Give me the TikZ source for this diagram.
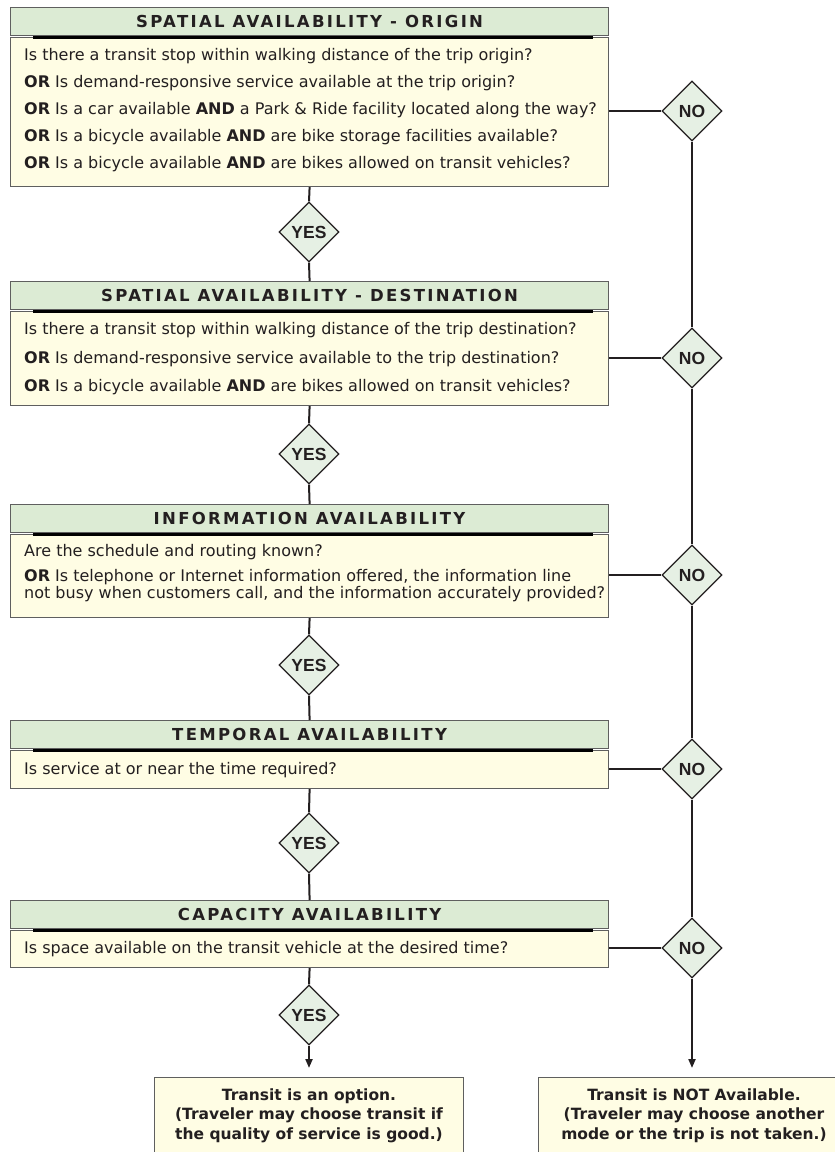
\documentclass[tikz,border=0pt]{standalone}
\usepackage{fontspec}
\setmainfont{DejaVu Sans}
\newfontfamily\ynfont{Liberation Sans}
\usetikzlibrary{shapes.geometric,arrows.meta}
\definecolor{hdrfill}{RGB}{220,235,212}
\definecolor{bodyfill}{RGB}{255,253,228}
\definecolor{dfill}{RGB}{230,240,228}
\definecolor{ink}{RGB}{35,31,32}
\definecolor{edge}{RGB}{95,95,95}
\newcommand{\bodyfont}{\fontsize{16}{15}\selectfont}
\newcommand{\finfont}{\fontsize{15.5}{20}\selectfont\bfseries}
\newcommand{\hdrfont}{\fontsize{16.5}{18}\selectfont\bfseries\addfontfeature{LetterSpace=14}}
\begin{document}
\begin{tikzpicture}[x=1pt,y=-1pt,
  hdr/.style={draw=edge, line width=1.2pt, fill=hdrfill, anchor=north west, minimum width=598pt, minimum height=28pt, inner sep=0pt, text=ink, font=\hdrfont},
  bodybox/.style={draw=edge, line width=1.2pt, fill=bodyfill, anchor=north west, minimum width=598pt, inner sep=0pt},
  endbox/.style={draw=edge, line width=1.2pt, fill=bodyfill, anchor=north west, inner sep=0pt},
  txt/.style={anchor=base west, inner sep=0pt, text=ink, font=\bodyfont},
  endtxt/.style={anchor=base, inner sep=0pt, text=ink, font=\finfont},
  dec/.style={diamond, draw=ink, line width=1.2pt, fill=dfill, minimum width=60pt, minimum height=60pt, inner sep=0pt, text=ink, font=\ynfont\fontsize{17.5}{18}\selectfont\bfseries},
  conn/.style={draw=ink, line width=2pt},
  shadowline/.style={draw=black, line width=2.2pt},
  arr/.style={conn, -{Triangle[width=7pt,length=9pt]}}
]
\useasboundingbox (0,0) rectangle (835,1152);

% ---------- Box 1
\node[hdr] (h1) at (10,7) {SPATIAL AVAILABILITY - ORIGIN};
\node[bodybox, minimum height=149pt] (b1) at (10,37) {};
\draw[shadowline] ([xshift=23pt,yshift=-1.3pt]h1.south west) -- ([xshift=-16pt,yshift=-1.3pt]h1.south east);
\node[txt] (t11) at (24,60.7) {Is there a transit stop within walking distance of the trip origin?};
\node[txt] (t12) at (24,87.5) {\textbf{OR} Is demand-responsive service available at the trip origin?};
\node[txt] (t13) at (24,114.5) {\textbf{OR} Is a car available \textbf{AND} a Park \& Ride facility located along the way?};
\node[txt] (t14) at (24,141.5) {\textbf{OR} Is a bicycle available \textbf{AND} are bike storage facilities available?};
\node[txt] (t15) at (24,168.3) {\textbf{OR} Is a bicycle available \textbf{AND} are bikes allowed on transit vehicles?};

% ---------- Box 2
\node[hdr] (h2) at (10,281) {SPATIAL AVAILABILITY - DESTINATION};
\node[bodybox, minimum height=94pt] (b2) at (10,311) {};
\draw[shadowline] ([xshift=23pt,yshift=-1.3pt]h2.south west) -- ([xshift=-16pt,yshift=-1.3pt]h2.south east);
\node[txt] (t21) at (24,334) {Is there a transit stop within walking distance of the trip destination?};
\node[txt] (t22) at (24,363) {\textbf{OR} Is demand-responsive service available to the trip destination?};
\node[txt] (t23) at (24,391.5) {\textbf{OR} Is a bicycle available \textbf{AND} are bikes allowed on transit vehicles?};

% ---------- Box 3
\node[hdr] (h3) at (10,504) {INFORMATION AVAILABILITY};
\node[bodybox, minimum height=83pt] (b3) at (10,534) {};
\draw[shadowline] ([xshift=23pt,yshift=-1.3pt]h3.south west) -- ([xshift=-16pt,yshift=-1.3pt]h3.south east);
\node[txt] (t31) at (24,556.7) {Are the schedule and routing known?};
\node[txt] (t32) at (24,581.5) {\textbf{OR} Is telephone or Internet information offered, the information line};
\node[txt] (t33) at (24,598.5) {not busy when customers call, and the information accurately provided?};

% ---------- Box 4
\node[hdr] (h4) at (10,720) {TEMPORAL AVAILABILITY};
\node[bodybox, minimum height=38pt] (b4) at (10,750) {};
\draw[shadowline] ([xshift=23pt,yshift=-1.3pt]h4.south west) -- ([xshift=-16pt,yshift=-1.3pt]h4.south east);
\node[txt] (t41) at (24,774) {Is service at or near the time required?};

% ---------- Box 5
\node[hdr] (h5) at (10,900) {CAPACITY AVAILABILITY};
\node[bodybox, minimum height=37pt] (b5) at (10,930) {};
\draw[shadowline] ([xshift=23pt,yshift=-1.3pt]h5.south west) -- ([xshift=-16pt,yshift=-1.3pt]h5.south east);
\node[txt] (t51) at (24,953.5) {Is space available on the transit vehicle at the desired time?};

% ---------- YES diamonds
\node[dec] (y1) at (309,232) {YES};
\node[dec] (y2) at (309,454) {YES};
\node[dec] (y3) at (309,665) {YES};
\node[dec] (y4) at (309,843) {YES};
\node[dec] (y5) at (309,1015) {YES};

% ---------- NO diamonds
\node[dec] (n1) at (692,111) {NO};
\node[dec] (n2) at (692,358) {NO};
\node[dec] (n3) at (692,575) {NO};
\node[dec] (n4) at (692,769) {NO};
\node[dec] (n5) at (692,948) {NO};

% ---------- End boxes
\node[endbox, minimum width=309pt, minimum height=90pt] (ok) at (154,1077) {};
\node[endtxt] (ok1) at (309,1100) {Transit is an option.};
\node[endtxt] (ok2) at (309,1119.5) {(Traveler may choose transit if};
\node[endtxt] (ok3) at (309,1139) {the quality of service is good.)};
\node[endbox, minimum width=297pt, minimum height=90pt] (nok) at (538,1077) {};
\node[endtxt] (nok1) at (694,1100) {Transit is NOT Available.};
\node[endtxt] (nok2) at (694,1119.5) {(Traveler may choose another};
\node[endtxt] (nok3) at (694,1139) {mode or the trip is not taken.)};
\coordinate (okin) at (309,1068);
\coordinate (nokin) at (692,1068);

% ---------- YES connectors
\draw[conn] (b1.south) -- (y1.north);
\draw[conn] (y1.south) -- (h2.north);
\draw[conn] (b2.south) -- (y2.north);
\draw[conn] (y2.south) -- (h3.north);
\draw[conn] (b3.south) -- (y3.north);
\draw[conn] (y3.south) -- (h4.north);
\draw[conn] (b4.south) -- (y4.north);
\draw[conn] (y4.south) -- (h5.north);
\draw[conn] (b5.south) -- (y5.north);
\draw[arr] (y5.south) -- (okin);

% ---------- NO connectors
\draw[conn] (b1.east |- n1.west) -- (n1.west);
\draw[conn] (b2.east |- n2.west) -- (n2.west);
\draw[conn] (b3.east |- n3.west) -- (n3.west);
\draw[conn] (b4.east |- n4.west) -- (n4.west);
\draw[conn] (b5.east |- n5.west) -- (n5.west);
\draw[conn] (n1.south) -- (n2.north);
\draw[conn] (n2.south) -- (n3.north);
\draw[conn] (n3.south) -- (n4.north);
\draw[conn] (n4.south) -- (n5.north);
\draw[arr] (n5.south) -- (nokin);
\end{tikzpicture}
\end{document}
